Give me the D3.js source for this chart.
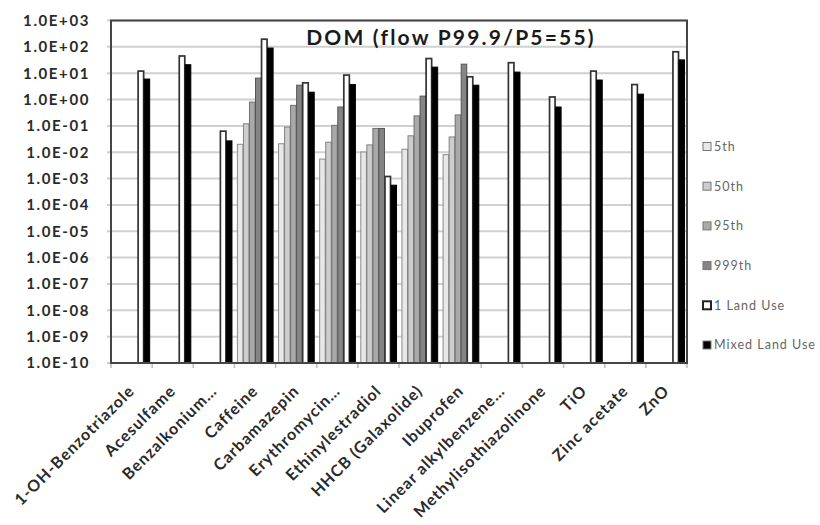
<!DOCTYPE html>
<html><head><meta charset="utf-8">
<script src="https://cdn.jsdelivr.net/npm/d3@7"></script>
<style>body{margin:0;background:#fff}svg{display:block}</style>
</head><body><svg id="c" width="820" height="525"></svg>
<script>
const categories = ["1-OH-Benzotriazole","Acesulfame","Benzalkonium…","Caffeine","Carbamazepin","Erythromycin…","Ethinylestradiol","HHCB (Galaxolide)","Ibuprofen","Linear alkylbenzene…","Methylisothiazolinone","TiO","Zinc acetate","ZnO"];
const seriesNames = ["5th","50th","95th","999th","1 Land Use","Mixed Land Use"];
const p5th   = [null,null,null,0.02,0.021,0.0055,0.0102,0.013,0.0081,null,null,null,null,null];
const p50th  = [null,null,null,0.12,0.09,0.024,0.019,0.042,0.038,null,null,null,null,null];
const p95th  = [null,null,null,0.8,0.6,0.105,0.08,0.24,0.26,null,null,null,null,null];
const p999th = [null,null,null,6.5,3.5,0.52,0.08,1.35,22,null,null,null,null,null];
const landUse1 = [12,45,0.063,195,4.3,8.5,0.0012,36,7.3,25,1.25,12,3.7,65];
const mixedLandUse = [6,21,0.027,90,1.9,3.7,0.00056,17,3.5,11,0.52,5.5,1.6,32];
const yTickLabels = ["1.0E-10","1.0E-09","1.0E-08","1.0E-07","1.0E-06","1.0E-05","1.0E-04","1.0E-03","1.0E-02","1.0E-01","1.0E+00","1.0E+01","1.0E+02","1.0E+03"];
const title = "DOM (flow P99.9/P5=55)";

const seriesValues = [p5th,p50th,p95th,p999th,landUse1,mixedLandUse];
const fills = ["#e8e8e8","#cdcdcd","#a9a9a9","#858585","#ffffff","#000000"];
const strokes = ["#8a8a8a","#808080","#6f6f6f","#555555","#333333","#000000"];
const strokeW = [1,1,1,1,1.7,1];
const FONT = "Lato, 'Open Sans', sans-serif";

const svg = d3.select("#c");
const L=111, R=687, T=20.5, B=363;
const y = d3.scaleLog().domain([1e-10,1e3]).range([B,T]);
const x0 = d3.scaleBand().domain(categories).range([L,R]).paddingInner(0.12).paddingOuter(0.06);
const x1 = d3.scaleBand().domain(seriesNames).range([0,x0.bandwidth()]);
const tickVals = yTickLabels.map(s=>+s);

// gridlines
svg.append("g").selectAll("line").data(tickVals).join("line")
  .attr("x1",L-4).attr("x2",R).attr("y1",d=>y(d)).attr("y2",d=>y(d))
  .attr("stroke","#d0d0d0").attr("stroke-width",2);

// y axis labels
const yAxis = d3.axisLeft(y).tickValues(tickVals).tickSize(0).tickPadding(21)
  .tickFormat((d,i)=>yTickLabels[i]);
const gy = svg.append("g").attr("transform",`translate(${L},0)`).call(yAxis);
gy.select(".domain").remove();
gy.selectAll("text").attr("font-family",FONT).attr("font-weight","bold")
  .attr("font-size",15).attr("letter-spacing","1.6px").attr("fill","#2a2a2a");

// bars
const data = [];
categories.forEach((c,i)=>seriesNames.forEach((s,j)=>{
  const v = seriesValues[j][i];
  if (v!=null) data.push({c,s,j,v});
}));
svg.append("g").selectAll("rect").data(data).join("rect")
  .attr("x",d=>x0(d.c)+x1(d.s)+0.5)
  .attr("width",x1.bandwidth()-0.5)
  .attr("y",d=>y(d.v))
  .attr("height",d=>B-y(d.v))
  .attr("fill",d=>fills[d.j])
  .attr("stroke",d=>strokes[d.j])
  .attr("stroke-width",d=>strokeW[d.j]);

// x axis ticks
const bounds = d3.range(categories.length+1).map(i=>L + i*x0.step());
svg.append("g").selectAll("line").data(bounds).join("line")
  .attr("x1",d=>d).attr("x2",d=>d).attr("y1",B).attr("y2",B+5)
  .attr("stroke","#bbb").attr("stroke-width",1.5);

// plot border
svg.append("rect").attr("x",L).attr("y",T).attr("width",R-L).attr("height",B-T)
  .attr("fill","none").attr("stroke","#454545").attr("stroke-width",2);

// x labels
const xAxis = d3.axisBottom(x0).tickSize(0).tickPadding(0);
const gx = svg.append("g").attr("transform",`translate(0,${B})`).call(xAxis);
gx.select(".domain").remove();
gx.selectAll("text")
  .attr("font-family",FONT).attr("font-weight","bold")
  .attr("font-size",16).attr("letter-spacing","1px").attr("fill","#2a2a2a")
  .attr("text-anchor","end").attr("dy","0.35em")
  .attr("transform","translate(0,25) rotate(-45)");

// title
svg.append("text").attr("x",451).attr("y",45).attr("text-anchor","middle")
  .attr("font-family",FONT).attr("font-weight","bold").attr("letter-spacing","2.2px")
  .attr("font-size",21).attr("fill","#1a1a1a").text(title);

// legend
const lg = svg.append("g").selectAll("g").data(seriesNames).join("g")
  .attr("transform",(d,i)=>`translate(703,${146.5+i*39.7})`);
lg.append("rect").attr("x",0).attr("y",-4).attr("width",8).attr("height",8)
  .attr("fill",(d,i)=>fills[i]).attr("stroke",(d,i)=>i===4?"#222":"#777").attr("stroke-width",(d,i)=>i===4?2:1);
lg.append("text").attr("x",11).attr("y",0).attr("dy","0.35em")
  .attr("font-family",FONT).attr("font-size",12.5).attr("letter-spacing","1px").attr("fill","#666")
  .text(d=>d);
</script></body></html>
